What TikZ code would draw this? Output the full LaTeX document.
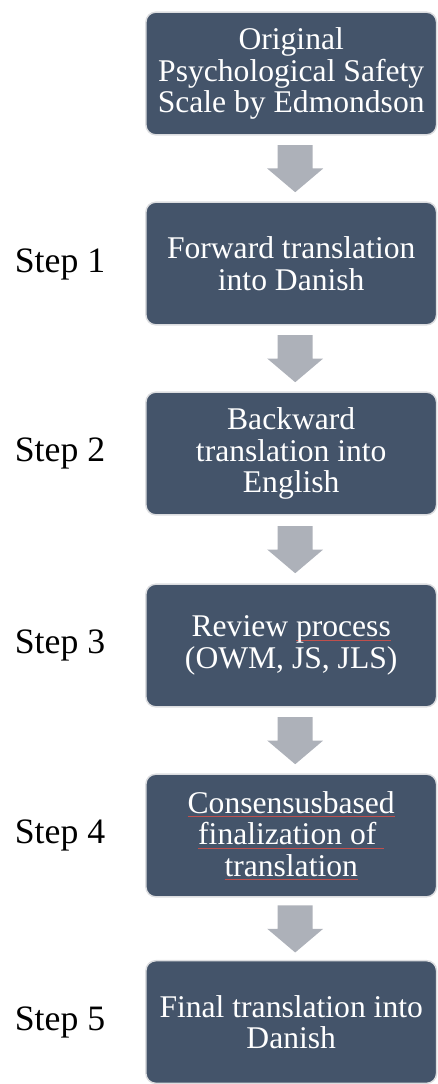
\documentclass[tikz,border=0pt]{standalone}
\usepackage{fontspec}
\setmainfont{Liberation Serif}
\usetikzlibrary{calc}
\definecolor{boxfill}{HTML}{44546A}
\definecolor{boxline}{HTML}{DCDDE0}
\definecolor{arrowfill}{HTML}{ADB1B9}
\definecolor{ulred}{HTML}{C0504D}
\newsavebox{\myulbox}
\newcommand{\redul}[1]{\sbox{\myulbox}{#1}\rlap{\textcolor{ulred}{\rule[-2.6pt]{\wd\myulbox}{0.5pt}}}\usebox{\myulbox}}
\tikzset{
  stepbox/.style={draw=boxline, line width=1.1pt, fill=boxfill, rounded corners=7.5pt,
    minimum width=218pt, minimum height=92pt, text=white, align=center, inner sep=0pt,
    font=\fontsize{23.7}{23.6}\selectfont},
  steplabel/.style={text=black, inner sep=0pt, font=\fontsize{26.8}{30}\selectfont},
  downarrow/.style={fill=arrowfill}
}
\newcommand{\blockarrow}[2]{%
  \path ($(#1.south)!0.5!(#2.north)$) coordinate (m#1);
  \fill[downarrow] ([xshift=3pt]m#1) ++(-13.1pt,17.6pt) -- ++(26.2pt,0) -- ++(0,-17.6pt)
    -- ++(7.9pt,0) -- ++(-21pt,-17.8pt) -- ++(-21pt,17.8pt) -- ++(7.9pt,0) -- cycle;}
\begin{document}
\begin{tikzpicture}[x=0.75pt,y=-0.75pt]
\useasboundingbox (0,0) rectangle (437,1084);
\node[stepbox] (b1) at (291.2,73.5) {Original\\Psychological Safety\\Scale by Edmondson};
\node[stepbox] (b2) at (291.2,263.5) {Forward translation\\into Danish};
\node[stepbox] (b3) at (291.2,453.5) {Backward\\translation into\\English};
\node[stepbox] (b4) at (291.2,645.5) {Review \redul{process}\\(OWM, JS, JLS)};
\node[stepbox] (b5) at (291.2,835.5) {\redul{Consensusbased}\\\redul{finalization of\ }\\\redul{translation}};
\node[stepbox] (b6) at (291.2,1022) {Final translation into\\Danish};
\node[steplabel] (s1) at (60,264) {Step 1};
\node[steplabel] (s2) at (60,453.5) {Step 2};
\node[steplabel] (s3) at (60,645.5) {Step 3};
\node[steplabel] (s4) at (60,835.5) {Step 4};
\node[steplabel] (s5) at (60,1022) {Step 5};
\blockarrow{b1}{b2}
\blockarrow{b2}{b3}
\blockarrow{b3}{b4}
\blockarrow{b4}{b5}
\blockarrow{b5}{b6}
\end{tikzpicture}
\end{document}
